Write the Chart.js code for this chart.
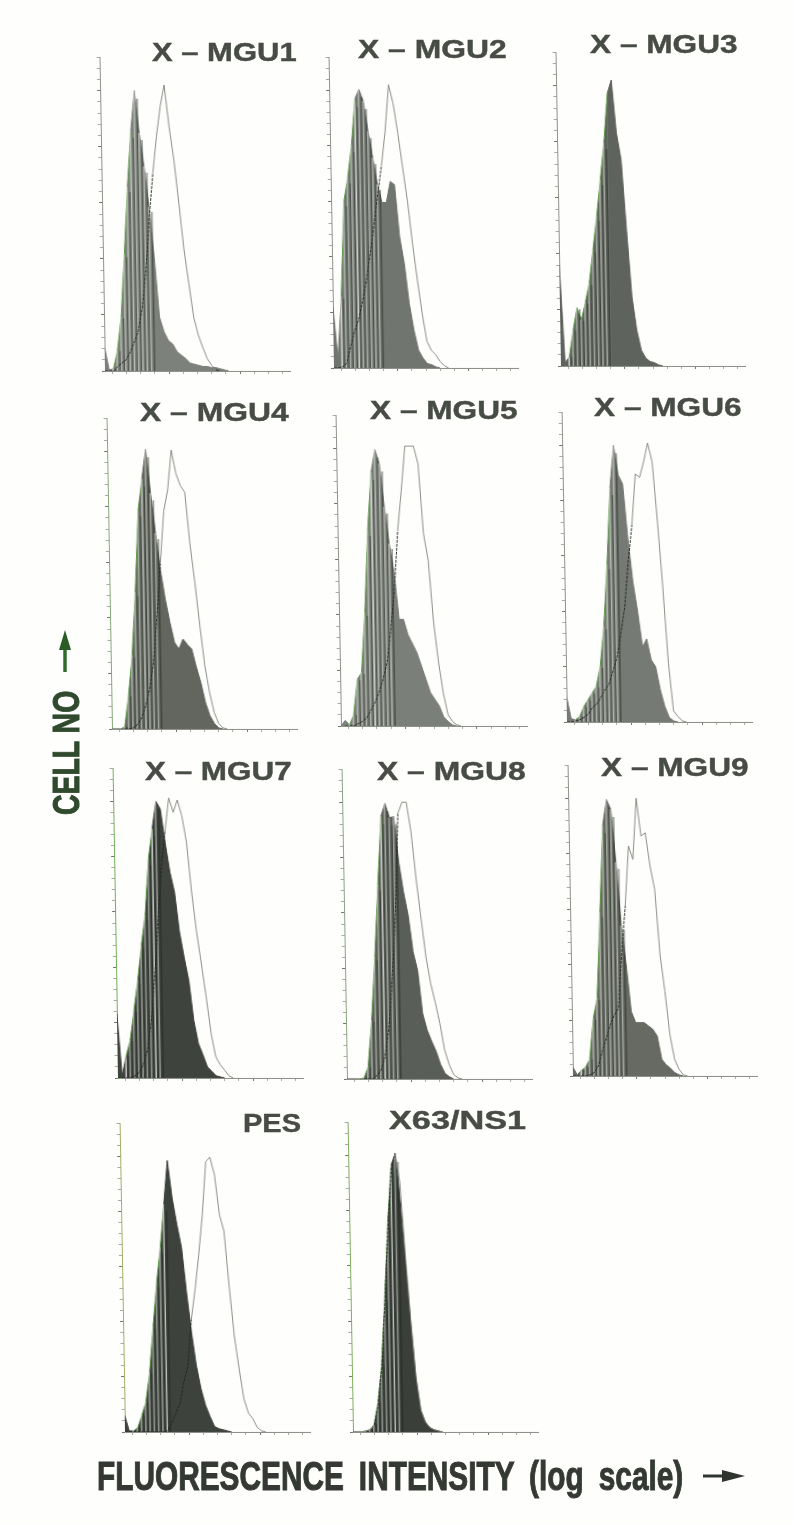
<!DOCTYPE html>
<html><head><meta charset="utf-8">
<script src="https://cdn.jsdelivr.net/npm/chart.js@4"></script>
<style>
html,body{margin:0;padding:0;background:#fefefd;width:794px;height:1524px;overflow:hidden}
canvas{position:absolute;filter:blur(.5px)}
.t{position:absolute;white-space:nowrap;font-family:"Liberation Sans",Arial,sans-serif;font-weight:700;color:#474c45;filter:blur(.5px);transform-origin:0 0;line-height:1;-webkit-text-stroke:.4px #474c45}
.n{font-family:"Liberation Sans Narrow","Liberation Sans",sans-serif;color:#343a33;font-weight:700;-webkit-text-stroke:1px #343a33}
svg{position:absolute;left:0;top:0;filter:blur(.4px)}
</style></head><body>
<script>
// Channels of the fluorescence axis (log scale, 0-260) and shared tick steps
const channels = [0,6,12,18,24,30,36,42,48,54,60,66,72,78,84,90,96,102,108,114,120,126,132,138,144,150,156,162,168,174,180,186,192,198];
const panelNames = ["X – MGU1","X – MGU2","X – MGU3","X – MGU4","X – MGU5","X – MGU6","X – MGU7","X – MGU8","X – MGU9","PES","X63/NS1"];

const mgu1Filled = [21,1,2,18,48,104,164,214,250,212,182,146,102,48,35,27,24,17,14,11,7,6,5,4,4,3,3,2,1,0];
const mgu1Open   = [0,0,0,4,7,10,17,26,36,57,90,137,176,209,236,255,218,188,149,108,78,48,32,21,11,5,1,0];
const mgu2Filled = [55,8,64,150,171,200,242,251,240,213,189,165,149,149,168,165,118,94,58,34,16,9,4,3,1,0];
const mgu2Open   = [0,0,1,4,19,33,43,60,79,103,129,156,182,213,255,238,211,180,150,112,79,49,24,16,12,6,2,0];
const mgu3Filled = [90,3,8,32,52,41,57,74,104,133,166,199,243,255,208,184,121,62,32,14,7,4,3,1,0];
const mgu3Open   = [];
const mgu4Filled = [0,0,0,2,30,66,123,197,225,252,212,176,143,117,96,78,72,81,76,72,56,42,24,12,5,1,0];
const mgu4Open   = [0,0,0,0,0,1,4,10,21,36,60,102,149,196,215,251,230,219,213,167,132,93,57,33,15,5,1,0];
const mgu5Filled = [0,5,1,10,42,48,102,176,228,249,236,197,164,138,96,96,82,74,66,54,42,30,24,18,8,4,1,0];
const mgu5Open   = [0,0,0,0,2,4,7,14,21,30,42,57,87,123,176,212,252,252,252,236,173,149,93,57,29,10,4,1,0];
const mgu6Filled = [23,3,2,5,14,20,26,32,50,86,142,211,250,223,215,166,127,100,68,75,56,50,29,14,4,1,0];
const mgu6Open   = [0,0,1,2,4,7,13,16,22,29,34,46,59,80,104,145,178,224,221,235,252,235,181,121,53,10,5,1,0];
const mgu7Filled = [58,2,20,34,61,88,120,147,198,225,250,243,213,186,168,132,109,88,52,31,21,10,6,2,1,0];
const mgu7Open   = [0,0,0,0,2,5,12,25,50,90,140,190,222,253,240,251,237,213,168,132,103,73,40,19,12,7,2,0];
const mgu8Filled = [0,0,0,0,1,11,53,110,175,237,249,236,237,196,169,148,115,98,59,44,34,25,13,5,2,0];
const mgu8Open   = [0,0,0,0,0,0,0,3,8,20,45,90,150,240,250,250,223,181,145,110,86,69,50,26,13,4,1,0];
const mgu9Filled = [8,1,5,8,15,52,70,147,225,249,240,192,135,100,58,48,48,48,45,42,36,15,10,7,3,1,0];
const mgu9Open   = [0,0,0,0,1,3,9,22,34,46,55,61,112,153,207,195,250,216,219,189,168,109,76,37,15,6,1,0];
const pesFilled  = [15,1,1,4,15,27,54,96,135,167,206,246,212,188,167,126,90,60,39,24,14,5,3,2,1,0];
const pesOpen    = [0,0,0,0,0,0,0,0,0,0,1,8,17,26,45,60,102,129,161,197,245,249,233,197,182,132,87,57,30,17,12,4,1,0];
const x63Filled  = [0,0,0,1,2,7,27,62,122,190,241,251,208,152,98,48,19,9,4,2,1,0];
const x63Open    = [0,0,0,1,2,6,25,58,118,185,238,252,225,160,100,50,20,9,4,2,1,0];

const filledSeries = [mgu1Filled,mgu2Filled,mgu3Filled,mgu4Filled,mgu5Filled,mgu6Filled,mgu7Filled,mgu8Filled,mgu9Filled,pesFilled,x63Filled];
const openSeries   = [mgu1Open,mgu2Open,mgu3Open,mgu4Open,mgu5Open,mgu6Open,mgu7Open,mgu8Open,mgu9Open,pesOpen,x63Open];

// Layout and look of each panel (axis corner, axis lengths, styles)
const layout = [
 {ox:105,oy:371,w:185,h:314,fill:'#7d817b',comb:11,axis:'#8f938a',tx:152,ty:44,tw:145},
 {ox:334,oy:368,w:184,h:311,fill:'#717570',comb:11,axis:'#8f938a',tx:358,ty:41,tw:149},
 {ox:561,oy:366,w:184,h:314,fill:'#5f635d',comb:11,axis:'#8f938a',tx:590,ty:36,tw:148},
 {ox:112,oy:729,w:185,h:311,fill:'#62665f',comb:11,axis:'#86a878',tx:140,ty:404,tw:149},
 {ox:341,oy:726,w:186,h:311,fill:'#7b7f79',comb:12,axis:'#8f938a',tx:370,ty:402,tw:148},
 {ox:567,oy:722,w:185,h:310,fill:'#767a74',comb:12,axis:'#8f938a',tx:594,ty:399,tw:148},
 {ox:118,oy:1078,w:185,h:310,fill:'#3f433e',comb:10,axis:'#74b05c',tx:145,ty:763,tw:147},
 {ox:347,oy:1079,w:185,h:310,fill:'#5a5e58',comb:12,axis:'#8aa382',tx:377,ty:763,tw:149},
 {ox:573,oy:1076,w:184,h:311,fill:'#666a63',comb:12,axis:'#8f938a',tx:601,ty:759,tw:148},
 {ox:125,oy:1432,w:185,h:309,fill:'#3e423d',comb:10,axis:'#a3ae66',tx:243,ty:1115,tw:58},
 {ox:353,oy:1432,w:185,h:310,fill:'#3b3f3a',comb:11,axis:'#7fae60',tx:389,ty:1112,tw:137}
];

const PAD=8;
const XMAX=260, YMAX=280;

function pts(vals){return vals.map((v,i)=>({x:channels[i],y:v}));}

filledSeries.forEach((filled,p)=>{
  const L=layout[p], open=openSeries[p];
  const cv=document.createElement('canvas');
  const cw=L.w+PAD+4, ch=L.h+PAD+4;
  cv.width=cw;cv.height=ch;
  cv.style.cssText=`left:${L.ox-PAD}px;top:${L.oy-L.h-4}px;width:${cw}px;height:${ch}px;transform-origin:${PAD}px ${L.h+4}px;transform:skewX(1deg)`;
  document.body.appendChild(cv);
  const peak=filled.indexOf(Math.max(...filled));
  const whiteComb=pts(filled).filter((d,i)=>i>=2&&i<=L.comb&&d.y>0);
  const darkComb=whiteComb.map(d=>({x:d.x+3,y:d.y*0.97}));
  new Chart(cv,{
    type:'line',
    data:{datasets:[
      {label:'open',data:pts(open),borderWidth:.9,pointRadius:0,fill:false,tension:0,order:1,
       borderColor:'#7d8276',
       segment:{
         borderColor:c=>(open[c.p0DataIndex]<filled[c.p0DataIndex]?'#1e231d':undefined),
         borderDash:c=>(open[c.p0DataIndex]<filled[c.p0DataIndex]?[3,1]:undefined)}},
      {label:'comb light',type:'bar',data:whiteComb,barThickness:1,backgroundColor:'rgba(232,236,228,.5)',order:2},
      {label:'comb dark',type:'bar',data:darkComb,barThickness:1,backgroundColor:'rgba(25,30,24,.45)',order:2},
      {label:'stained',data:pts(filled),backgroundColor:L.fill,fill:'origin',pointRadius:0,tension:0,order:3,borderWidth:1,
       borderColor:L.fill,
       segment:{borderColor:c=>(c.p0DataIndex>=2&&c.p1DataIndex<=peak-1?'#5e9a48':undefined)}}
    ]},
    options:{
      responsive:false,animation:false,events:[],
      layout:{padding:{left:0,top:4,right:4,bottom:0}},
      plugins:{legend:{display:false},tooltip:{enabled:false},title:{display:false}},
      scales:{
        x:{type:'linear',min:0,max:XMAX,offset:false,afterFit:s=>{s.height=PAD;},
           border:{color:'#8a8d85',width:1},
           ticks:{display:false,stepSize:20,autoSkip:false},
           grid:{drawOnChartArea:false,drawTicks:true,tickLength:3,
                 tickColor:c=>c.tick&&c.tick.value%100===0?'#6e716a':'#a8aba3'}},
        y:{type:'linear',min:0,max:YMAX,afterFit:s=>{s.width=PAD;},
           border:{color:L.axis,width:1},
           ticks:{display:false,stepSize:10,autoSkip:false},
           grid:{drawOnChartArea:false,drawTicks:true,tickLength:3,
                 tickColor:c=>c.tick&&c.tick.value%50===0?'#6e716a':'#a8aba3'}}
      }
    }
  });
  const t=document.createElement('div');
  t.className='t';t.textContent=panelNames[p];
  t.style.cssText=`left:${L.tx}px;top:${L.ty-4}px;font-size:25px`;
  document.body.appendChild(t);
  t.style.transform=`scaleX(${L.tw/t.offsetWidth})`;
});

// Axis captions
const xCap=document.createElement('div');
xCap.className='t n';xCap.textContent='FLUORESCENCE INTENSITY (log scale)';
xCap.style.cssText='left:97px;top:1456px;font-size:40px;word-spacing:9px';
document.body.appendChild(xCap);
xCap.style.transform=`scaleX(${586/xCap.offsetWidth})`;

const yCap=document.createElement('div');
yCap.className='t n';yCap.textContent='CELL NO';
yCap.style.cssText='left:49px;top:815px;font-size:36px;color:#2f4a2c;-webkit-text-stroke:1px #2f4a2c';
document.body.appendChild(yCap);
yCap.style.transform=`rotate(-90deg) scaleX(${124/yCap.offsetWidth})`;

document.body.insertAdjacentHTML('beforeend',`<svg width="794" height="1524">
<path d="M65 672V645" stroke="#2f6b2a" stroke-width="3.5"/><path d="M65 630L59 650H71Z" fill="#2b5c28"/>
<path d="M703 1476H728" stroke="#2f342e" stroke-width="3"/><path d="M745 1476L722 1470V1482Z" fill="#2f342e"/>
</svg>`);
</script>
</body></html>
